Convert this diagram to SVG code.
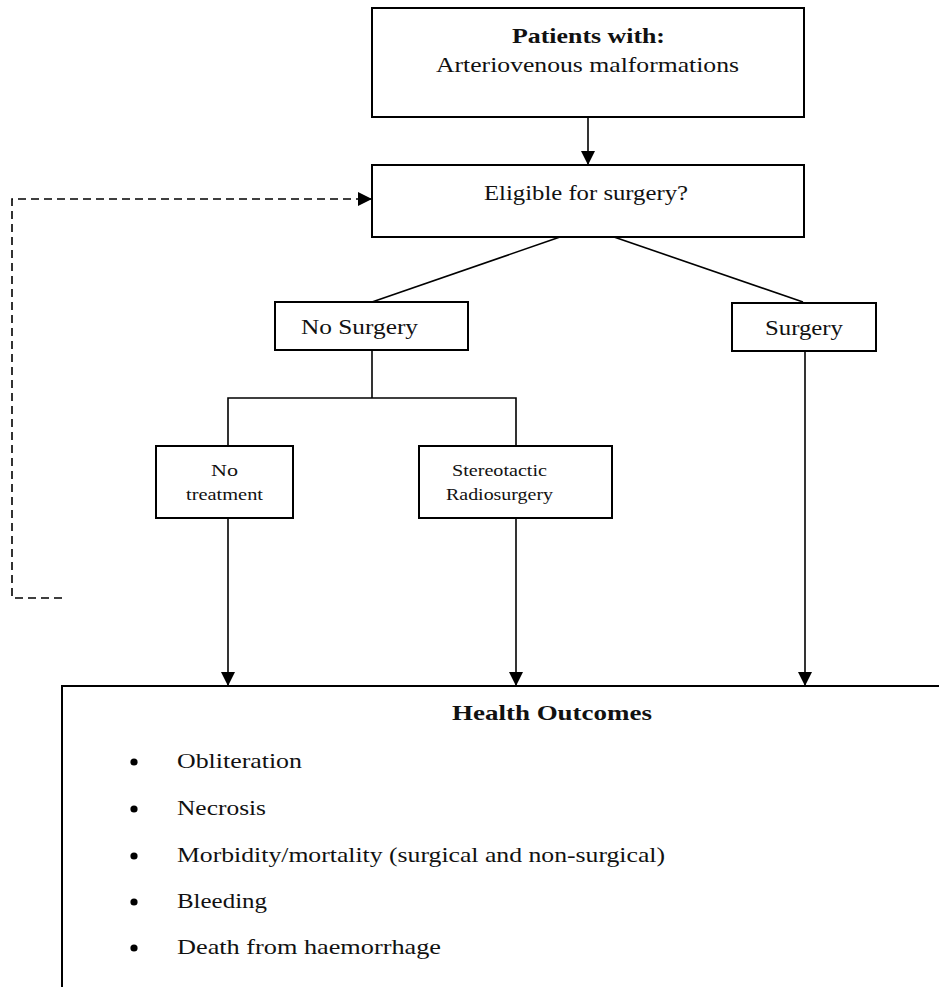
<svg xmlns="http://www.w3.org/2000/svg" width="939" height="987" viewBox="0 0 939 987">
<style>
.box{fill:#fff;stroke:#000;stroke-width:2}
.ln{fill:none;stroke:#000;stroke-width:1.6}
.dash{fill:none;stroke:#000;stroke-width:1.6;stroke-dasharray:8,5}
text{font-family:"Liberation Serif","Times New Roman",serif;fill:#111}
.t{font-size:21px}
.s{font-size:17px}
.b{font-weight:bold}
</style>
<defs>
<marker id="ah" markerUnits="userSpaceOnUse" markerWidth="16" markerHeight="16" refX="14" refY="7" orient="auto">
<path d="M0,0 L14,7 L0,14 Z" fill="#000"/>
</marker>
</defs>
<rect width="939" height="987" fill="#fff"/>
<g id="connectors">
<line class="ln" x1="588" y1="117" x2="588" y2="165" marker-end="url(#ah)"/>
<line class="ln" x1="560" y1="237" x2="372" y2="302"/>
<line class="ln" x1="614" y1="237" x2="803" y2="302"/>
<line class="ln" x1="372" y1="350" x2="372" y2="398"/>
<polyline class="ln" points="228,446 228,398 516,398 516,446"/>
<line class="ln" x1="228" y1="518" x2="228" y2="686" marker-end="url(#ah)"/>
<line class="ln" x1="516" y1="518" x2="516" y2="686" marker-end="url(#ah)"/>
<line class="ln" x1="805" y1="351" x2="805" y2="686" marker-end="url(#ah)"/>
<polyline class="dash" points="62,598 12,598 12,199 372,199" marker-end="url(#ah)"/>
</g>
<g id="patients">
<rect class="box" x="372" y="8" width="432" height="109"/>
<text class="t b" x="512" y="43" textLength="153" lengthAdjust="spacingAndGlyphs">Patients with:</text>
<text class="t" x="436" y="72" textLength="303" lengthAdjust="spacingAndGlyphs">Arteriovenous malformations</text>
</g>
<g id="eligible">
<rect class="box" x="372" y="165" width="432" height="72"/>
<text class="t" x="484" y="200" textLength="204" lengthAdjust="spacingAndGlyphs">Eligible for surgery?</text>
</g>
<g id="nosurgery">
<rect class="box" x="275" y="302" width="193" height="48"/>
<text class="t" x="301" y="334" textLength="117" lengthAdjust="spacingAndGlyphs">No Surgery</text>
</g>
<g id="surgery">
<rect class="box" x="732" y="303" width="144" height="48"/>
<text class="t" x="765" y="335" textLength="78" lengthAdjust="spacingAndGlyphs">Surgery</text>
</g>
<g id="notreatment">
<rect class="box" x="156" y="446" width="137" height="72"/>
<text class="s" x="211" y="476" textLength="27" lengthAdjust="spacingAndGlyphs">No</text>
<text class="s" x="186" y="500" textLength="77" lengthAdjust="spacingAndGlyphs">treatment</text>
</g>
<g id="srs">
<rect class="box" x="419" y="446" width="193" height="72"/>
<text class="s" x="452" y="476" textLength="95" lengthAdjust="spacingAndGlyphs">Stereotactic</text>
<text class="s" x="446" y="500" textLength="107" lengthAdjust="spacingAndGlyphs">Radiosurgery</text>
</g>
<g id="outcomes">
<rect class="box" x="62" y="686" width="900" height="340"/>
<text class="t b" x="452" y="720" textLength="200" lengthAdjust="spacingAndGlyphs">Health Outcomes</text>
<circle cx="134" cy="762" r="3.6" fill="#000"/>
<text class="t" x="177" y="768" textLength="125" lengthAdjust="spacingAndGlyphs">Obliteration</text>
<circle cx="134" cy="809" r="3.6" fill="#000"/>
<text class="t" x="177" y="815" textLength="89" lengthAdjust="spacingAndGlyphs">Necrosis</text>
<circle cx="134" cy="856" r="3.6" fill="#000"/>
<text class="t" x="177" y="862" textLength="488" lengthAdjust="spacingAndGlyphs">Morbidity/mortality (surgical and non-surgical)</text>
<circle cx="134" cy="902" r="3.6" fill="#000"/>
<text class="t" x="177" y="908" textLength="90" lengthAdjust="spacingAndGlyphs">Bleeding</text>
<circle cx="134" cy="948" r="3.6" fill="#000"/>
<text class="t" x="177" y="954" textLength="264" lengthAdjust="spacingAndGlyphs">Death from haemorrhage</text>
</g>
</svg>
